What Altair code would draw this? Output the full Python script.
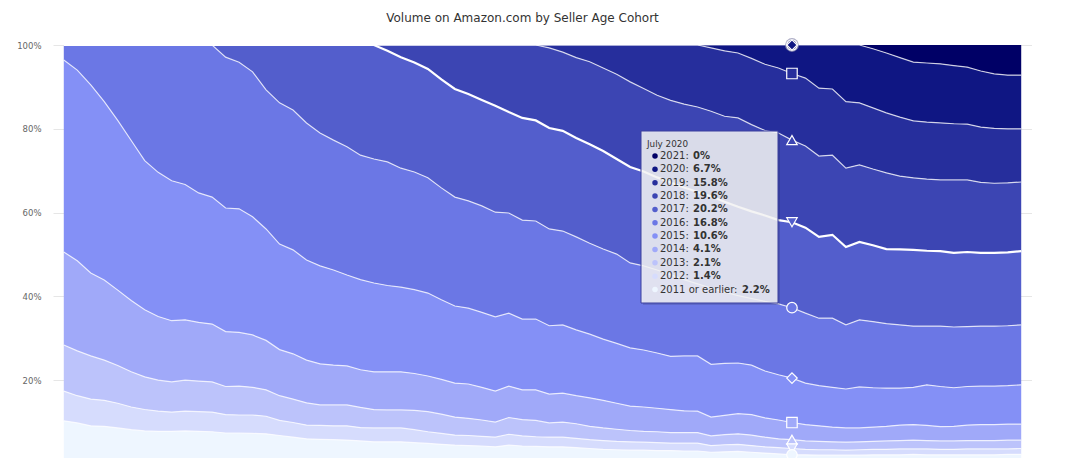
import altair as alt
import pandas as pd

# ---------------- data ----------------
cohorts = ["2011 or earlier", "2012", "2013", "2014", "2015", "2016",
           "2017", "2018", "2019", "2020", "2021"]
colors = ["#eef6ff", "#d6dcfd", "#bcc3fb", "#a0a9f9", "#8490f6", "#6b77e5",
          "#535ecc", "#3c45b3", "#262e9c", "#0f1683", "#000066"]

# month labels, Jan 2016 .. Dec 2021
months = [d.strftime("%B %Y") for d in pd.date_range("2016-01-01", periods=72, freq="MS")]

# cumulative top edge (in %) of each cohort band, month by month
top_2011 = [10.3, 9.8, 9.1, 9.0, 8.6, 8.2, 7.9, 7.8, 7.8, 7.9, 7.8, 7.7,
            7.4, 7.4, 7.3, 7.2, 6.8, 6.4, 6.0, 5.9, 5.8, 5.7, 5.5, 5.3,
            5.3, 5.3, 5.1, 4.9, 4.7, 4.5, 4.4, 4.3, 4.1, 4.5, 4.3, 4.2,
            4.1, 4.1, 3.9, 3.7, 3.5, 3.4, 3.3, 3.3, 3.2, 3.2, 3.1, 3.1,
            2.8, 2.9, 3.0, 2.8, 2.6, 2.4, 2.2, 2.2, 2.1, 2.1, 2.1, 2.1,
            2.2, 2.2, 2.2, 2.3, 2.2, 2.2, 2.2, 2.2, 2.2, 2.2, 2.3, 2.3]
top_2012 = [17.4, 16.3, 15.5, 15.2, 14.5, 13.6, 13.0, 12.6, 12.4, 12.6, 12.5, 12.4,
            11.8, 11.7, 11.7, 11.4, 10.4, 9.9, 9.3, 9.2, 9.1, 9.1, 8.7, 8.6,
            8.6, 8.6, 8.2, 7.7, 7.3, 6.9, 6.8, 6.6, 6.4, 7.1, 6.7, 6.5,
            6.4, 6.4, 6.1, 5.8, 5.6, 5.4, 5.3, 5.2, 5.1, 5.0, 5.0, 5.0,
            4.4, 4.6, 4.7, 4.4, 4.1, 3.9, 3.7, 3.5, 3.4, 3.4, 3.3, 3.4,
            3.5, 3.5, 3.6, 3.6, 3.6, 3.5, 3.5, 3.6, 3.6, 3.6, 3.6, 3.7]
top_2013 = [28.4, 27.0, 25.8, 24.8, 23.5, 22.0, 20.8, 20.0, 19.6, 20.0, 19.8, 19.6,
            18.5, 18.6, 18.3, 17.7, 16.3, 15.5, 14.6, 14.1, 14.1, 14.1, 13.5, 13.0,
            12.9, 12.9, 12.8, 12.5, 11.9, 11.2, 10.9, 10.5, 10.0, 11.1, 10.6, 10.4,
            9.8, 10.0, 9.6, 9.0, 8.6, 8.3, 8.0, 7.8, 7.7, 7.5, 7.5, 7.5,
            6.7, 7.0, 7.2, 6.9, 6.4, 6.0, 5.8, 5.5, 5.4, 5.3, 5.2, 5.3,
            5.4, 5.5, 5.6, 5.7, 5.6, 5.5, 5.5, 5.6, 5.6, 5.6, 5.7, 5.7]
top_2014 = [50.6, 48.5, 45.6, 43.9, 41.5, 39.0, 36.8, 35.2, 34.2, 34.4, 33.8, 33.4,
            31.6, 31.4, 30.8, 29.5, 27.3, 26.3, 24.8, 23.9, 23.6, 23.4, 22.5, 22.0,
            22.0, 22.0, 21.6, 21.0, 20.2, 19.3, 19.1, 18.3, 17.4, 18.6, 17.7, 17.7,
            16.7, 16.9, 16.3, 15.8, 15.2, 14.5, 13.8, 13.6, 13.3, 13.0, 12.7, 12.6,
            11.2, 11.6, 12.0, 11.8, 11.0, 10.5, 9.9, 9.4, 9.1, 8.8, 8.6, 8.6,
            8.8, 9.0, 9.3, 9.4, 9.2, 8.9, 9.0, 9.3, 9.4, 9.4, 9.5, 9.5]
top_2015 = [96.4, 94.0, 90.5, 86.5, 82.0, 77.2, 72.4, 69.6, 67.6, 66.7, 64.7, 63.7,
            61.1, 60.9, 59.0, 56.1, 52.5, 51.1, 48.7, 47.3, 46.3, 45.1, 44.0, 43.2,
            42.6, 42.2, 41.6, 40.8, 39.2, 37.7, 37.2, 36.2, 35.1, 36.0, 34.6, 34.6,
            33.0, 33.2, 32.0, 31.0, 29.8, 28.8, 27.7, 27.2, 26.5, 25.7, 25.8, 25.8,
            23.8, 24.0, 24.1, 23.6, 22.2, 21.3, 20.5, 19.3, 18.7, 18.3, 17.9, 18.4,
            18.2, 18.1, 18.1, 18.3, 18.9, 18.5, 18.2, 18.5, 18.6, 18.6, 18.7, 18.9]
top_2016 = [100, 100, 100, 100, 100, 100, 100, 100, 100, 100, 100, 100,
            97.1, 95.9, 93.6, 89.3, 86.2, 84.5, 81.4, 79.0, 77.3, 75.7, 73.7, 72.8,
            72.1, 70.6, 69.7, 68.3, 65.9, 63.7, 62.8, 61.6, 60.1, 59.9, 58.2, 58.0,
            56.1, 55.6, 54.2, 52.7, 51.3, 50.1, 48.0, 47.3, 46.3, 45.2, 44.0, 43.0,
            42.0, 41.0, 40.2, 39.5, 38.8, 38.2, 37.3, 36.0, 34.8, 34.8, 33.2, 34.4,
            34.0, 33.5, 33.2, 32.9, 32.9, 32.9, 32.7, 32.8, 32.9, 32.9, 33.0, 33.2]
top_2017 = [100, 100, 100, 100, 100, 100, 100, 100, 100, 100, 100, 100,
            100, 100, 100, 100, 100, 100, 100, 100, 100, 100, 100, 100,
            98.6, 97.1, 95.8, 94.3, 91.8, 89.5, 88.3, 86.9, 85.5, 84.0, 82.6, 82.0,
            80.2, 79.5, 77.8, 76.3, 74.7, 72.8, 70.9, 69.8, 68.4, 67.2, 66.0, 64.9,
            63.9, 62.6, 61.4, 60.3, 59.3, 58.2, 57.7, 56.4, 54.2, 54.7, 51.8, 53.0,
            52.2, 51.3, 51.2, 51.1, 50.9, 50.8, 50.4, 50.6, 50.4, 50.4, 50.5, 50.8]
top_2018 = [100, 100, 100, 100, 100, 100, 100, 100, 100, 100, 100, 100,
            100, 100, 100, 100, 100, 100, 100, 100, 100, 100, 100, 100,
            100, 100, 100, 100, 100, 100, 100, 100, 100, 100, 100, 100,
            99.3, 98.3, 97.0, 96.0, 94.5, 93.0, 91.2, 89.6, 88.0, 86.8, 85.9, 85.2,
            84.2, 83.0, 82.6, 81.0, 79.6, 79.0, 77.3, 75.9, 73.5, 73.7, 70.6, 71.4,
            70.4, 69.5, 68.7, 68.3, 68.0, 67.8, 67.8, 67.8, 67.2, 67.0, 67.1, 67.3]
top_2019 = [100, 100, 100, 100, 100, 100, 100, 100, 100, 100, 100, 100,
            100, 100, 100, 100, 100, 100, 100, 100, 100, 100, 100, 100,
            100, 100, 100, 100, 100, 100, 100, 100, 100, 100, 100, 100,
            100, 100, 100, 100, 100, 100, 100, 100, 100, 100, 100, 100,
            99.3, 98.6, 98.1, 96.8, 95.4, 94.5, 93.2, 92.1, 89.7, 89.5, 86.5, 86.2,
            85.0, 83.8, 82.8, 81.9, 81.6, 81.4, 81.2, 81.1, 80.4, 80.1, 80.0, 80.0]
top_2020 = [100, 100, 100, 100, 100, 100, 100, 100, 100, 100, 100, 100,
            100, 100, 100, 100, 100, 100, 100, 100, 100, 100, 100, 100,
            100, 100, 100, 100, 100, 100, 100, 100, 100, 100, 100, 100,
            100, 100, 100, 100, 100, 100, 100, 100, 100, 100, 100, 100,
            100, 100, 100, 100, 100, 100, 100, 100, 100, 100, 100, 100,
            99.1, 98.1, 97.0, 95.9, 95.7, 95.5, 95.1, 94.7, 93.8, 93.1, 92.8, 92.8]

# tooltip shown for July 2020 (top to bottom)
tooltip_month = "July 2020"
tooltip_cohorts = ["2021", "2020", "2019", "2018", "2017", "2016", "2015",
                   "2014", "2013", "2012", "2011 or earlier"]
tooltip_values = ["0%", "6.7%", "15.8%", "19.6%", "20.2%", "16.8%", "10.6%",
                  "4.1%", "2.1%", "1.4%", "2.2%"]

title_text = "Volume on Amazon.com by Seller Age Cohort"
y_ticks = [20, 40, 60, 80, 100]

# ---------------- tables ----------------
tops = [top_2011, top_2012, top_2013, top_2014, top_2015, top_2016,
        top_2017, top_2018, top_2019, top_2020]
rows = []
for k, series in enumerate(tops):
    for i, v in enumerate(series):
        lower = tops[k - 1][i] if k > 0 else 0.0
        rows.append({"m": i, "month": months[i], "cohort": cohorts[k],
                     "upper": v, "lower": lower})
# the newest cohort fills the band above the 2020 edge
for i, v in enumerate(top_2020):
    rows.append({"m": i, "month": months[i], "cohort": cohorts[10],
                 "upper": 100.0, "lower": v})
df = pd.DataFrame(rows)
edges = df[df.cohort != "2021"]

hover_idx = months.index(tooltip_month)
marks = df[df.m == hover_idx].copy()

shape_range = ["circle", "triangle-down", "triangle-up", "square", "diamond",
               "circle", "triangle-down", "triangle-up", "square", "diamond", "circle"]

FONT = "DejaVu Sans"
W, H = 979, 419

x_enc = alt.X("m:Q", scale=alt.Scale(domain=[-0.8, 71.8], nice=False, zero=False), axis=None)
y_scale = alt.Scale(domain=[0, 100], nice=False)
color_scale = alt.Scale(domain=cohorts, range=colors)

areas = alt.Chart(df).mark_area(interpolate="linear", strokeWidth=0, opacity=1).encode(
    x=x_enc,
    y=alt.Y("upper:Q", scale=y_scale,
            axis=alt.Axis(values=y_ticks, labelExpr="datum.value + '%'", title=None,
                          grid=True, gridColor="#e6e6e6", gridWidth=1,
                          domain=False, ticks=False, labelPadding=12,
                          labelFontSize=8.5, labelColor="#666666", labelFont=FONT)),
    y2="lower:Q",
    color=alt.Color("cohort:N", scale=color_scale, legend=None),
    detail="cohort:N",
)

lines = alt.Chart(edges[edges.cohort != "2017"]).mark_line(
    color="white", strokeWidth=1.2, opacity=0.75, interpolate="linear"
).encode(x=x_enc, y=alt.Y("upper:Q", scale=y_scale), detail="cohort:N")

line_hover = alt.Chart(edges[edges.cohort == "2017"]).mark_line(
    color="white", strokeWidth=2.2, opacity=1, interpolate="linear"
).encode(x=x_enc, y=alt.Y("upper:Q", scale=y_scale))

halo = alt.Chart(marks[marks.cohort == "2021"]).mark_point(
    shape="circle", filled=True, color="#9a9ab8", opacity=0.8, size=190
).encode(x=x_enc, y=alt.Y("upper:Q", scale=y_scale))

markers = alt.Chart(marks).mark_point(
    filled=True, stroke="white", strokeWidth=1.2, size=110, opacity=1
).encode(
    x=x_enc, y=alt.Y("upper:Q", scale=y_scale),
    color=alt.Color("cohort:N", scale=color_scale, legend=None),
    shape=alt.Shape("cohort:N", scale=alt.Scale(domain=cohorts, range=shape_range), legend=None),
    order=alt.Order("lower:Q", sort="descending"),
)

# ---------------- tooltip box (pixel layout relative to plot area) ----------------
box = pd.DataFrame({"x": [588], "x2": [725], "y": [86], "y2": [258]})
shadow = alt.Chart(box).mark_rect(fill="#000000", opacity=0.12).encode(
    x=alt.X("sx:Q", scale=None), x2="sx2:Q", y=alt.Y("sy:Q", scale=None), y2="sy2:Q"
).transform_calculate(sx="datum.x + 2", sx2="datum.x2 + 2", sy="datum.y + 2", sy2="datum.y2 + 2")
tip_rect = alt.Chart(box).mark_rect(
    fill="#f7f7f7", fillOpacity=0.85, stroke="#3b3f9c", strokeWidth=1
).encode(x=alt.X("x:Q", scale=None), x2="x2:Q", y=alt.Y("y:Q", scale=None), y2="y2:Q")

tip_rows = pd.DataFrame({
    "cohort": tooltip_cohorts,
    "label": [c + ":" for c in tooltip_cohorts],
    "value": tooltip_values,
})
tip_rows["ty"] = [111 + 13.35 * j for j in range(len(tip_rows))]
tip_rows["dx"] = 602
tip_rows["lx"] = 607
tip_rows["vx"] = [607 + (82 if len(c) > 4 else 33) for c in tooltip_cohorts]

tip_head = alt.Chart(pd.DataFrame({"t": [tooltip_month]})).mark_text(
    align="left", baseline="middle", font=FONT, fontSize=8.8, color="#333333"
).encode(x=alt.value(594), y=alt.value(99), text="t:N")

tip_dots = alt.Chart(tip_rows).mark_point(shape="circle", filled=True, size=30, opacity=1).encode(
    x=alt.X("dx:Q", scale=None), y=alt.Y("ty:Q", scale=None),
    color=alt.Color("cohort:N", scale=color_scale, legend=None),
)
tip_labels = alt.Chart(tip_rows).mark_text(
    align="left", baseline="middle", font=FONT, fontSize=10, color="#333333"
).encode(x=alt.X("lx:Q", scale=None), y=alt.Y("ty:Q", scale=None), text="label:N")
tip_values = alt.Chart(tip_rows).mark_text(
    align="left", baseline="middle", font=FONT, fontSize=10, fontWeight="bold", color="#333333"
).encode(x=alt.X("vx:Q", scale=None), y=alt.Y("ty:Q", scale=None), text="value:N")

chart = alt.layer(
    areas, lines, line_hover, halo, markers,
    shadow, tip_rect, tip_head, tip_dots, tip_labels, tip_values,
).properties(
    width=W, height=H,
    title=alt.TitleParams(title_text, font=FONT, fontSize=12, fontWeight="normal",
                          color="#333333", anchor="middle", dx=-20, offset=12),
    padding={"left": 45, "top": 37, "right": 0, "bottom": 0},
    autosize=alt.AutoSizeParams(type="none"),
).configure_view(stroke=None).resolve_scale(color="shared")

chart.save("out.html", embed_options={"renderer": "svg", "actions": False})
